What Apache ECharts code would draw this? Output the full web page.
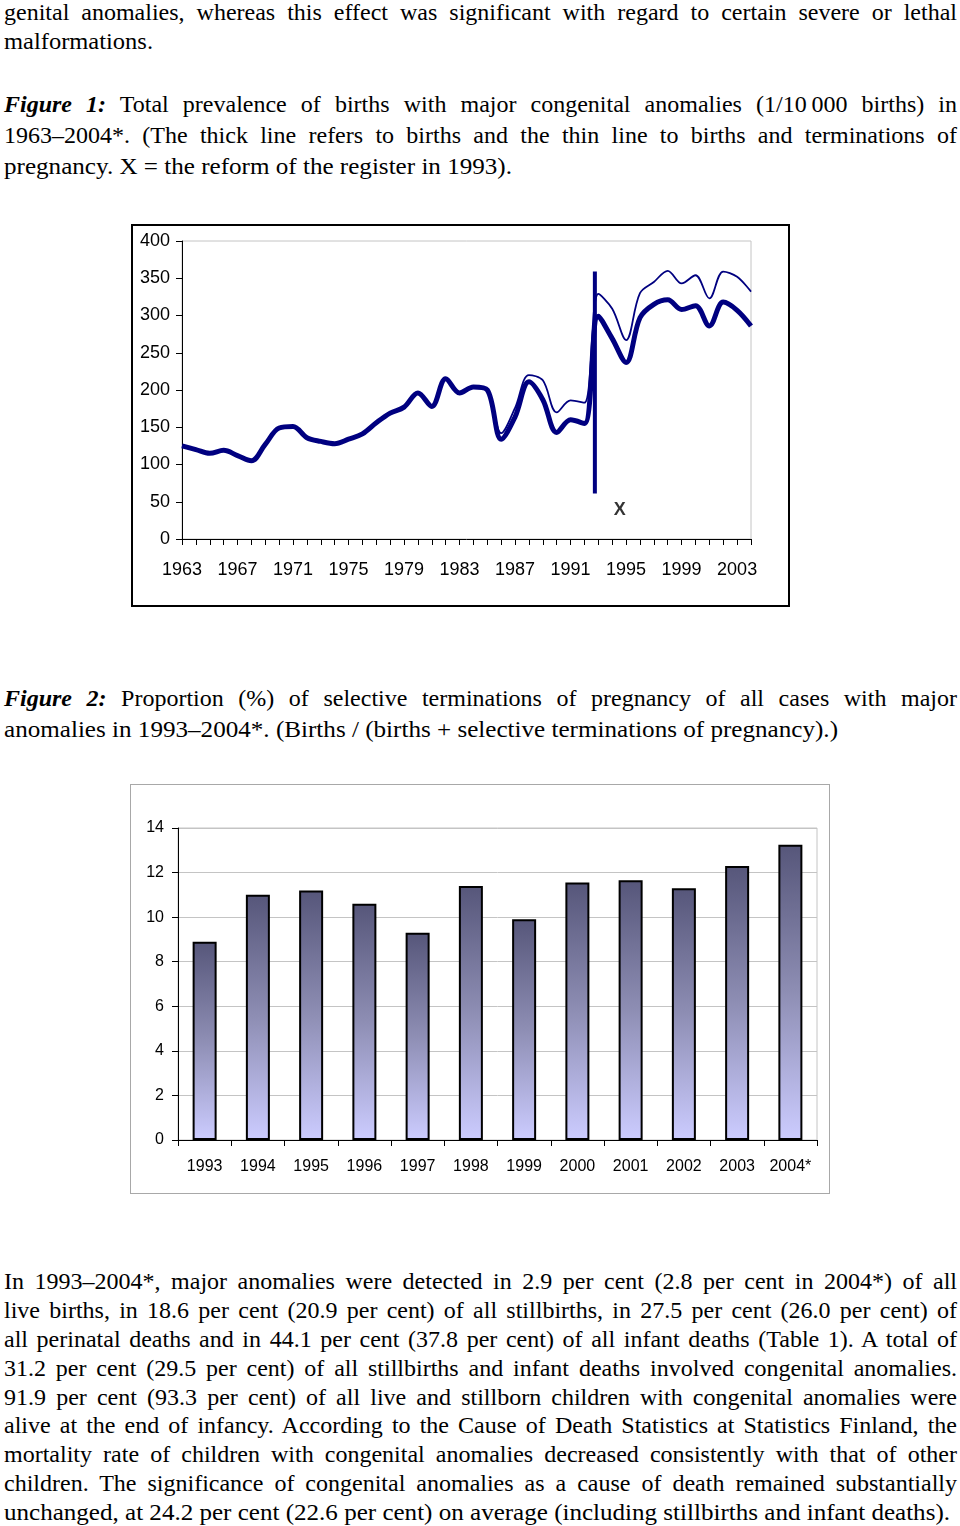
<!DOCTYPE html>
<html>
<head>
<meta charset="utf-8">
<script src="https://cdn.jsdelivr.net/npm/echarts@6/dist/echarts.min.js"></script>
<style>
  html, body { margin:0; padding:0; background:#fff; }
  body { width:960px; height:1526px; position:relative; overflow:hidden; }
  .ln { position:absolute; left:4px; white-space:nowrap; font-family:'Liberation Serif','Times New Roman',serif; font-size:24px; line-height:28px; color:#000; transform-origin:0 50%; display:inline-block; }
  #box1 { position:absolute; left:131px; top:224px; width:659px; height:383px; border:2px solid #000; box-sizing:border-box; }
  #c1 { position:absolute; left:0; top:0; width:655px; height:379px; }
  #box2 { position:absolute; left:130px; top:784px; width:700px; height:410px; border:1px solid #a8a8a8; box-sizing:border-box; }
  #c2 { position:absolute; left:0; top:0; width:698px; height:408px; }
</style>
</head>
<body>
<div id="box1"><div id="c1"></div></div>
<div id="box2"><div id="c2"></div></div>
<script>
// ---------- Figure 1 data ----------
const years = [1963,1964,1965,1966,1967,1968,1969,1970,1971,1972,1973,1974,1975,1976,1977,1978,1979,1980,1981,1982,1983,1984,1985,1986,1987,1988,1989,1990,1991,1992,1993,1994,1995,1996,1997,1998,1999,2000,2001,2002,2003,2004];
const births = [125,120,115,119,112,105,127,149,151,136,131,128,134,141,156,169,177,196,178,215,196,204,200,134,164,211,187,143,160,155,299,269,237,297,315,321,308,313,286,318,307,286];
const birthsAndTerminations = [125,120,115,119,112,105,127,149,151,136,131,128,134,141,156,169,177,196,178,215,196,204,200,142,176,220,213,170,186,183,329,309,267,330,345,360,343,354,323,359,352,332];
const yearLabels = [1963,1967,1971,1975,1979,1983,1987,1991,1995,1999,2003];
const reformYear = 1992.75;
const reformLine = [61, 359];
const reformMark = [1994.55, 39];

// ---------- Figure 2 data ----------
const barYears = ['1993','1994','1995','1996','1997','1998','1999','2000','2001','2002','2003','2004*'];
const terminationShare = [8.9, 11.0, 11.2, 10.6, 9.3, 11.4, 9.9, 11.55, 11.65, 11.3, 12.3, 13.25];

// ---------- Text ----------
const textLines = [
  {h:'genital anomalies, whereas this effect was significant with regard to certain severe or lethal', y:12, j:true, w:953},
  {h:'malformations.', y:41, j:false, w:149},
  {h:'<b><i>Figure 1:</i></b> Total prevalence of births with major congenital anomalies (1/10\u2009000 births) in', y:104, j:true, w:953},
  {h:'1963\u20132004*. (The thick line refers to births and the thin line to births and terminations of', y:135, j:true, w:953},
  {h:'pregnancy. X = the reform of the register in 1993).', y:166, j:false, w:508},
  {h:'<b><i>Figure 2:</i></b> Proportion (%) of selective terminations of pregnancy of all cases with major', y:698, j:true, w:953},
  {h:'anomalies in 1993\u20132004*. (Births / (births + selective terminations of pregnancy).)', y:729, j:false, w:834},
  {h:'In 1993\u20132004*, major anomalies were detected in 2.9 per cent (2.8 per cent in 2004*) of all', y:1281, j:true, w:953},
  {h:'live births, in 18.6 per cent (20.9 per cent) of all stillbirths, in 27.5 per cent (26.0 per cent) of', y:1310, j:true, w:953},
  {h:'all perinatal deaths and in 44.1 per cent (37.8 per cent) of all infant deaths (Table 1). A total of', y:1339, j:true, w:953},
  {h:'31.2 per cent (29.5 per cent) of all stillbirths and infant deaths involved congenital anomalies.', y:1368, j:true, w:953},
  {h:'91.9 per cent (93.3 per cent) of all live and stillborn children with congenital anomalies were', y:1397, j:true, w:953},
  {h:'alive at the end of infancy. According to the Cause of Death Statistics at Statistics Finland, the', y:1425, j:true, w:953},
  {h:'mortality rate of children with congenital anomalies decreased consistently with that of other', y:1454, j:true, w:953},
  {h:'children. The significance of congenital anomalies as a cause of death remained substantially', y:1483, j:true, w:953},
  {h:'unchanged, at 24.2 per cent (22.6 per cent) on average (including stillbirths and infant deaths).', y:1512, j:false, w:946}
];

textLines.forEach(l => {
  const d = document.createElement('div');
  d.className = 'ln';
  d.style.top = (l.y - 14) + 'px';
  d.innerHTML = l.h;
  document.body.appendChild(d);
  const w = d.getBoundingClientRect().width;
  if (l.j && w < l.w) {
    const spaces = (d.textContent.match(/[ \u00a0]/g) || []).length;
    d.style.wordSpacing = ((l.w - w) / spaces) + 'px';
    const w2 = d.getBoundingClientRect().width;
    if (Math.abs(w2 - l.w) > 0.5) d.style.transform = 'scaleX(' + (l.w / w2) + ')';
  } else {
    d.style.transform = 'scaleX(' + (l.w / w) + ')';
  }
});

// ---------- Chart 1 ----------
const sans = "'Liberation Sans', Arial, sans-serif";
const navy = '#000080';
const c1 = echarts.init(document.getElementById('c1'), null, {renderer:'canvas'});
c1.setOption({
  animation: false,
  grid: {left:49, top:15, width:569, height:298, show:true, borderColor:'#c4c4c4', borderWidth:1, backgroundColor:'transparent'},
  xAxis: {
    type:'value', min:1963, max:2004, interval:1,
    axisLine:{show:true, lineStyle:{color:'#000', width:1}},
    axisTick:{show:true, length:6, lineStyle:{color:'#000', width:1}},
    splitLine:{show:false},
    axisLabel:{show:true, margin:22, fontSize:18, color:'#000', fontFamily:sans,
      formatter: v => yearLabels.indexOf(Math.round(v)) >= 0 ? String(Math.round(v)) : ''}
  },
  yAxis: {
    type:'value', min:0, max:400, interval:50,
    axisLine:{show:true, lineStyle:{color:'#000', width:1}},
    axisTick:{show:true, length:6, lineStyle:{color:'#000', width:1}},
    splitLine:{show:false},
    axisLabel:{show:true, margin:12, fontSize:18, color:'#000', fontFamily:sans}
  },
  series: [
    {type:'line', name:'Births and terminations', data: years.map((y,i)=>[y, birthsAndTerminations[i]]), smooth:0.35, symbol:'none', lineStyle:{color:navy, width:1.8}, z:2},
    {type:'line', name:'Births', data: years.map((y,i)=>[y, births[i]]), smooth:0.35, symbol:'none', lineStyle:{color:navy, width:5}, z:3},
    {type:'line', name:'Reform', data: reformLine.map(v=>[reformYear, v]), symbol:'none', lineStyle:{color:navy, width:4}, z:4},
    {type:'scatter', data:[reformMark], symbolSize:1, itemStyle:{color:'rgba(0,0,0,0)'},
      label:{show:true, formatter:'X', position:'inside', fontSize:18, fontWeight:'bold', color:'#000', fontFamily:sans}, z:5}
  ]
});

// ---------- Chart 2 ----------
const c2 = echarts.init(document.getElementById('c2'), null, {renderer:'canvas'});
c2.setOption({
  animation: false,
  grid: {left:47, top:43, width:639, height:312, show:true, borderColor:'#c4c4c4', borderWidth:1},
  xAxis: {
    type:'category', data: barYears, boundaryGap:true,
    axisLine:{show:true, lineStyle:{color:'#000', width:1}},
    axisTick:{show:true, length:6, alignWithLabel:false, lineStyle:{color:'#000'}},
    axisLabel:{margin:19, fontSize:16, color:'#000', fontFamily:sans, interval:0}
  },
  yAxis: {
    type:'value', min:0, max:14, interval:2,
    axisLine:{show:true, lineStyle:{color:'#000', width:1}},
    axisTick:{show:true, length:6, lineStyle:{color:'#000'}},
    splitLine:{show:true, lineStyle:{color:'#c4c4c4', width:1}},
    axisLabel:{margin:14, fontSize:16, color:'#000', fontFamily:sans}
  },
  series: [{
    type:'bar', data: terminationShare, barWidth:24,
    itemStyle:{
      color: new echarts.graphic.LinearGradient(0,0,0,1,[
        {offset:0, color:'#56567a'},
        {offset:0.5, color:'#8e8eb4'},
        {offset:1, color:'#ccccff'}
      ]),
      borderColor:'#000', borderWidth:2
    }
  }]
});
</script>
</body>
</html>
